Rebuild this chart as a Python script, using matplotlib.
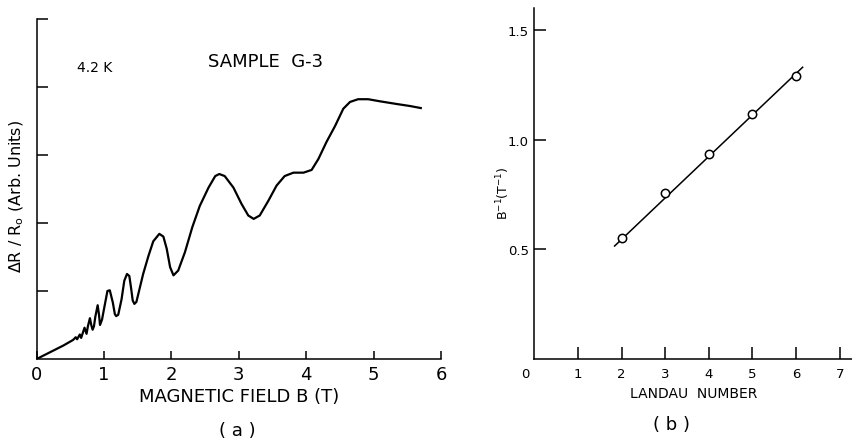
import numpy as np
import matplotlib
matplotlib.use("Agg")
import matplotlib.pyplot as plt

# (a) magnetoresistance trace, SAMPLE G-3 at 4.2 K
field_b = [0.00, 0.20, 0.40, 0.54, 0.58, 0.60, 0.64, 0.66, 0.71, 0.74,
           0.76, 0.79, 0.81, 0.83, 0.85, 0.87, 0.905, 0.925, 0.94, 0.97,
           1.00, 1.05, 1.085, 1.13, 1.16, 1.18, 1.21, 1.26, 1.30, 1.34,
           1.375, 1.40, 1.425, 1.45, 1.48, 1.58, 1.66, 1.73, 1.82, 1.88,
           1.93, 1.98, 2.03, 2.10, 2.20, 2.31, 2.42, 2.55, 2.65, 2.71,
           2.79, 2.92, 3.04, 3.14, 3.22, 3.31, 3.44, 3.56, 3.68, 3.81,
           3.96, 4.08, 4.18, 4.30, 4.43, 4.55, 4.65, 4.77, 4.92, 5.09,
           5.34, 5.54, 5.70]
delta_r = [0.00, 0.10, 0.20, 0.28, 0.32, 0.29, 0.36, 0.31, 0.46, 0.37,
           0.48, 0.60, 0.50, 0.43, 0.48, 0.62, 0.79, 0.65, 0.50, 0.58,
           0.74, 1.00, 1.01, 0.83, 0.66, 0.63, 0.65, 0.88, 1.15, 1.25,
           1.22, 1.05, 0.86, 0.81, 0.84, 1.25, 1.52, 1.73, 1.84, 1.80,
           1.62, 1.35, 1.23, 1.30, 1.57, 1.94, 2.25, 2.52, 2.69, 2.72,
           2.69, 2.52, 2.28, 2.11, 2.06, 2.11, 2.33, 2.55, 2.69, 2.74,
           2.74, 2.78, 2.94, 3.19, 3.43, 3.68, 3.78, 3.82, 3.82, 3.79,
           3.75, 3.72, 3.69]

# (b) inverse field of the minima vs Landau number
landau_n = [2, 3, 4, 5, 6]
inv_b = [0.553, 0.758, 0.936, 1.118, 1.291]
fit_n = [1.84, 6.15]
fit_inv_b = [0.515, 1.33]

plt.rcParams["font.family"] = "DejaVu Sans"
plt.rcParams["mathtext.fontset"] = "dejavusans"

fig = plt.figure(figsize=(8.53, 4.39), dpi=100)
ax1 = fig.add_axes([0.043, 0.180, 0.474, 0.7745])
ax2 = fig.add_axes([0.6264, 0.180, 0.3734, 0.7995])

for ax in (ax1, ax2):
    for side in ("top", "right"):
        ax.spines[side].set_visible(False)
    for side in ("left", "bottom"):
        ax.spines[side].set_linewidth(1.1)
    ax.tick_params(direction="in", width=1.1)

# panel (a)
ax1.plot(field_b, delta_r, color="black", lw=1.6, solid_joinstyle="round")
ax1.set_xlim(0, 6)
ax1.set_ylim(0, 5)
ax1.set_xticks(range(0, 7))
ax1.set_yticks([1, 2, 3, 4, 5])
ax1.set_yticklabels([])
ax1.tick_params(axis="x", length=6, pad=4, labelsize=13)
ax1.tick_params(axis="y", length=8)
ax1.set_xlabel("MAGNETIC FIELD B (T)", fontsize=13, labelpad=3)
ax1.text(-0.049, 0.48, r"ΔR / R$_{\rm o}$ (Arb. Units)", transform=ax1.transAxes,
         rotation=90, fontsize=11.5, ha="center", va="center")
ax1.text(0.865, 4.30, "4.2 K", fontsize=10, ha="center", va="center")
ax1.text(3.39, 4.38, "SAMPLE  G-3", fontsize=13, ha="center", va="center")
fig.text(237 / 853, 1 - 431 / 439, "( a )", fontsize=13, ha="center", va="center")

# panel (b)
ax2.plot(fit_n, fit_inv_b, color="black", lw=1.1)
ax2.plot(landau_n, inv_b, "o", ms=6, mfc="white", mec="black", mew=1.1)
ax2.set_xlim(0, 7.3)
ax2.set_ylim(0, 1.6)
ax2.set_xticks(range(1, 8))
ax2.set_yticks([0.5, 1.0, 1.5])
ax2.set_yticklabels(["0.5", "1.0", "1.5"])
ax2.tick_params(axis="x", length=8.5, pad=6, labelsize=9.5)
ax2.tick_params(axis="y", length=8.5, pad=4, labelsize=9.5)
ax2.text(-0.21, -0.065, "0", fontsize=9.5, ha="center", va="center")
ax2.set_xlabel("LANDAU  NUMBER", fontsize=10, labelpad=4)
ax2.text(-0.098, 0.474, r"B$^{-1}$(T$^{-1}$)", transform=ax2.transAxes,
         rotation=90, fontsize=9, ha="center", va="center")
fig.text(672 / 853, 1 - 425 / 439, "( b )", fontsize=13, ha="center", va="center")

fig.savefig("out.png", dpi=100)
